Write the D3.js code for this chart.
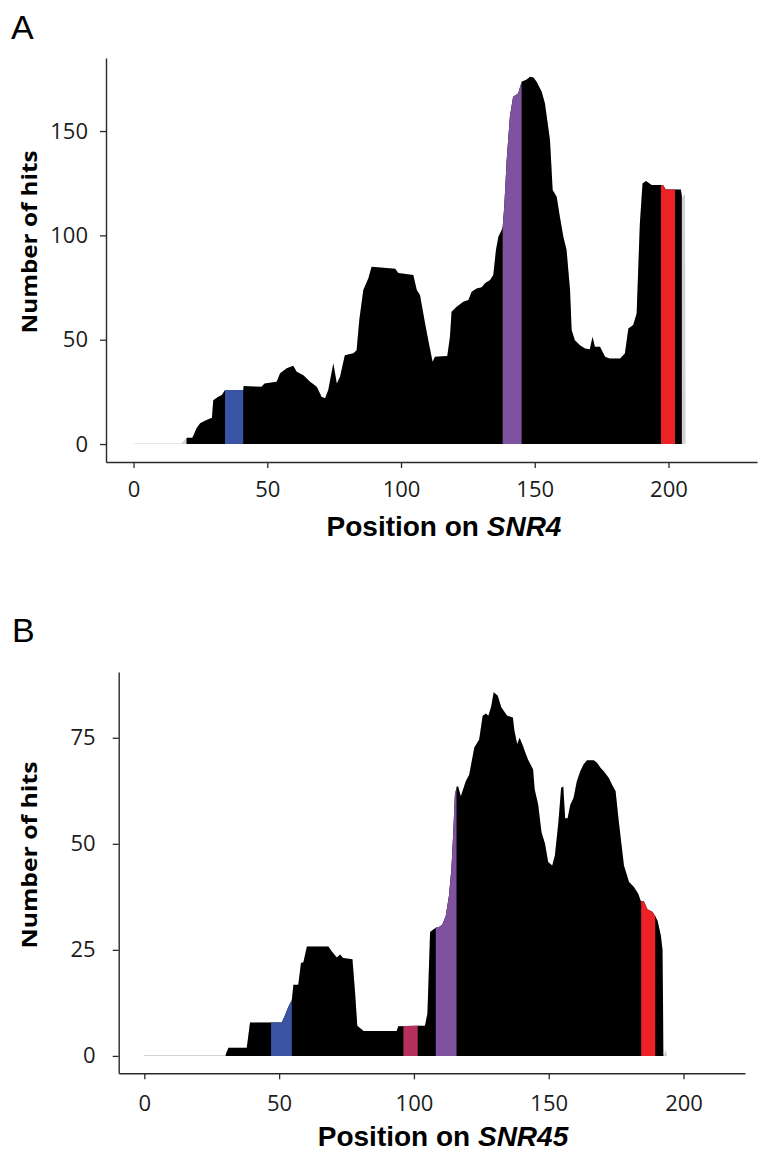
<!DOCTYPE html>
<html>
<head>
<meta charset="utf-8">
<script src="https://cdn.jsdelivr.net/npm/d3@7"></script>
<style>
  html, body { margin: 0; padding: 0; background: #fff; }
  svg { display: block; }
</style>
</head>
<body>
<svg id="chart" width="760" height="1153"></svg>
<script>
// ---------------- Panel A data (SNR4) ----------------
const posA = [0, 18, 19, 20, 22, 23.6, 24.9, 26.7, 28.6, 29.3, 29.8, 31.7, 33, 34.2, 41, 41.2, 45, 47.8, 49, 53.5, 54.8, 57.3, 59.7, 61, 63.5, 66, 68.5, 70.3, 71.6, 72.8, 74.7, 76, 77.2, 79, 82.2, 83.4, 84.4, 85.9, 87.8, 89, 97.8, 99, 104.6, 105.9, 107.1, 109, 110.2, 111.8, 112.7, 117.3, 118.3, 118.9, 120.8, 123.3, 125.2, 126.4, 128.3, 130.2, 131.4, 133.3, 134.5, 135.5, 136.4, 137.6, 138, 138.6, 139.5, 140.7, 141.9, 143.8, 145.1, 147, 148.2, 149.5, 150.7, 152.6, 153.8, 155.7, 156.7, 158.2, 159.4, 160.7, 161.9, 163.2, 163.8, 165, 166.9, 168.8, 170.6, 171.6, 172.5, 174.4, 176.3, 178, 181.9, 183.7, 185, 186.8, 188.1, 189.3, 190.3, 191.6, 193.7, 196.8, 198, 199, 202.4, 204.6, 205.2, 206.2, 206.4];
const hitsA = [0.3, 0.3, 2, 3, 3, 7.7, 10, 11.2, 12.3, 12.5, 21, 22.7, 23.5, 25.9, 25.9, 27.8, 27.6, 27.5, 29, 29.9, 33.9, 36.3, 37.5, 34.7, 33, 29.9, 27.5, 22.7, 21.9, 25.9, 38.7, 29, 32.3, 42.6, 43.5, 45, 59.4, 73.8, 79.4, 85, 84, 82, 81, 73.8, 71.4, 57.8, 49.8, 39.4, 41.8, 42.2, 51.4, 63.4, 65.8, 68.2, 69, 73, 74.6, 75.1, 77, 78.6, 81, 93, 99.3, 102.5, 104, 113.7, 136, 156.8, 166.4, 168, 173.6, 174.7, 176, 175.7, 173.6, 168.8, 163.3, 145.7, 121.7, 118.5, 108.9, 99.3, 93, 73.8, 54.6, 49.8, 47.4, 45.8, 45.4, 51.4, 46.6, 46.6, 41.8, 41, 41, 43.4, 55.4, 57, 62.6, 105.7, 124.9, 126, 124.1, 124.1, 124, 122, 122, 122, 118, 120, 0];
const blackA = [19.8, 205];
const segStartA = [34.2, 138, 197.2];
const segEndA = [41, 145.1, 202.4];
const segColorA = ["#3a54a4", "#7f52a0", "#ec2227"];
const xTicksA = [0, 50, 100, 150, 200];
const yTicksA = [0, 50, 100, 150];

// ---------------- Panel B data (SNR45) ----------------
const posB = [0, 29.9, 30.3, 31.2, 38, 39.2, 47, 51, 52.2, 53.4, 54.7, 55.3, 57.1, 58.1, 59, 60.3, 68.3, 69.5, 71.4, 72.6, 73.8, 77.2, 78.2, 79, 81.3, 93.6, 94.2, 101.4, 104.1, 105, 106, 107.2, 108.1, 109.3, 110.5, 111.8, 113, 113.9, 114.6, 115.2, 115.9, 116.4, 117.4, 119.2, 120.5, 122.4, 124.2, 125.5, 126.7, 127.6, 128.6, 129.6, 131.1, 132.4, 134.6, 136.7, 137.3, 138.3, 139.2, 140.5, 141.1, 142.3, 144.2, 144.8, 146.1, 147.3, 148.6, 149.8, 151.3, 152.3, 153.6, 154.6, 155.4, 156.1, 157, 158, 159.2, 160.4, 161.7, 162.9, 164.2, 166.7, 167.9, 169.2, 170.4, 172.3, 173.5, 174.8, 176, 177.9, 179.8, 181.6, 183.2, 184.1, 185.3, 186.6, 188.4, 189.5, 190.4, 191.6, 192.2, 192.6, 193.3, 194];
const hitsB = [0.2, 0.2, 0.5, 1.9, 1.9, 7.9, 7.9, 7.9, 9.6, 11.5, 13.1, 16.8, 16.8, 21.9, 22.1, 25.8, 25.8, 24.7, 23.2, 23.9, 23.1, 22.8, 14.7, 7.1, 5.9, 5.9, 7, 7.1, 7.1, 10, 29.2, 29.8, 30.2, 30.4, 30.9, 33, 37.8, 44.1, 52.8, 61.6, 63.5, 63.5, 61.2, 64.7, 66.3, 72.7, 74.6, 80.2, 80.7, 80.2, 82.2, 85.7, 84.9, 82.2, 80.2, 79.8, 76.6, 73.5, 75, 73, 71.9, 69.9, 67.5, 62.8, 59.2, 52.8, 50.1, 45.7, 44.9, 47.3, 55.2, 63.2, 63.5, 56, 56, 59.2, 60.8, 64.7, 67.1, 68.7, 69.7, 69.7, 69.1, 67.9, 67.1, 65.5, 63.9, 62.4, 55.2, 44.9, 41, 39.8, 38.2, 36.6, 36.4, 34.6, 34, 33, 31.8, 28.3, 25.1, 0, 1.5, 0];
const blackB = [30.2, 192.6];
const segStartB = [47, 96.1, 108.1, 184.3];
const segEndB = [54.7, 101.4, 115.8, 189.5];
const segColorB = ["#3a54a4", "#b6305e", "#7f52a0", "#ec2227"];
const xTicksB = [0, 50, 100, 150, 200];
const yTicksB = [0, 25, 50, 75];

const svg = d3.select("#chart");

function drawPanel(o) {
  const g = svg.append("g");
  const x = d3.scaleLinear().domain(o.xDomain).range([o.left, o.right]);
  const y = d3.scaleLinear().domain(o.yDomain).range([o.bottom, o.top]);
  const data = o.pos.map((p, i) => ({ p: p, v: o.hits[i] }));
  const area = d3.area().x(d => x(d.p)).y0(y(0)).y1(d => y(d.v)).curve(d3.curveLinear);

  function clipRect(id, a, b) {
    svg.append("clipPath").attr("id", id)
      .append("rect")
      .attr("x", x(a)).attr("width", x(b) - x(a))
      .attr("y", o.top - 5).attr("height", o.bottom - o.top + 10);
  }

  // light grey full profile
  g.append("path").datum(data).attr("d", area).attr("fill", "#d2d2d2");
  // black body
  clipRect(o.id + "-black", o.black[0], o.black[1]);
  g.append("path").datum(data).attr("d", area).attr("fill", "#000")
    .attr("clip-path", `url(#${o.id}-black)`);
  // coloured segments
  o.segStart.forEach((s, i) => {
    const cid = `${o.id}-seg${i}`;
    clipRect(cid, s, o.segEnd[i]);
    g.append("path").datum(data).attr("d", area).attr("fill", o.segColor[i])
      .attr("clip-path", `url(#${cid})`);
  });

  // axes
  const yAxis = d3.axisLeft(y).tickValues(o.yTicks).tickSize(6).tickSizeOuter(0).tickPadding(o.yPad);
  const xAxis = d3.axisBottom(x).tickValues(o.xTicks).tickSize(6).tickSizeOuter(0).tickPadding(o.xPad);
  const ya = g.append("g").attr("transform", `translate(${o.left},0)`).call(yAxis);
  const xa = g.append("g").attr("transform", `translate(0,${o.bottom})`).call(xAxis);
  [ya, xa].forEach(a => {
    a.attr("font-family", "'Open Sans', sans-serif").attr("font-size", 22);
    a.select(".domain").attr("stroke", "#2a2a2a").attr("stroke-width", 1.4);
    a.selectAll(".tick line").attr("stroke", "#2a2a2a").attr("stroke-width", 1.3);
    a.selectAll(".tick text")
      .style("font-family", "'Open Sans', sans-serif")
      .style("font-size", "22px").attr("fill", "#1c1c1c");
  });

  // y title
  g.append("text")
    .attr("transform", `translate(${o.yTitleX},${o.yTitleY}) rotate(-90)`)
    .attr("text-anchor", "middle")
    .attr("font-family", "'Open Sans', sans-serif")
    .attr("font-weight", 700).attr("font-size", 22)
    .attr("textLength", o.yTitleLen).attr("lengthAdjust", "spacingAndGlyphs")
    .text("Number of hits");

  // x title
  const xt = g.append("text")
    .attr("x", o.xTitleX).attr("y", o.xTitleY)
    .attr("text-anchor", "middle")
    .attr("font-family", "'Liberation Sans', Arial, sans-serif")
    .attr("font-weight", 700).attr("font-size", 28);
  xt.append("tspan").text("Position on ");
  xt.append("tspan").attr("font-style", "italic").text(o.gene);

  // panel letter
  g.append("text").attr("x", o.letterX).attr("y", o.letterY)
    .attr("font-family", "'Liberation Sans', Arial, sans-serif")
    .attr("font-size", 34).text(o.letter);
}

drawPanel({
  id: "A", pos: posA, hits: hitsA, black: blackA,
  segStart: segStartA, segEnd: segEndA, segColor: segColorA,
  xTicks: xTicksA, yTicks: yTicksA,
  xDomain: [-10.3, 233.1], yDomain: [-8.6, 185],
  left: 106, right: 757, top: 58, bottom: 462,
  yPad: 12, xPad: 13,
  yTitleX: 37, yTitleY: 242, yTitleLen: 183,
  xTitleX: 444, xTitleY: 536, gene: "SNR4",
  letter: "A", letterX: 11, letterY: 39
});

drawPanel({
  id: "B", pos: posB, hits: hitsB, black: blackB,
  segStart: segStartB, segEnd: segEndB, segColor: segColorB,
  xTicks: xTicksB, yTicks: yTicksB,
  xDomain: [-9.5, 222.8], yDomain: [-4.1, 90.5],
  left: 118.7, right: 745, top: 672, bottom: 1073.3,
  yPad: 17, xPad: 16,
  yTitleX: 37, yTitleY: 855, yTitleLen: 187,
  xTitleX: 443, xTitleY: 1146, gene: "SNR45",
  letter: "B", letterX: 12, letterY: 642
});
</script>
</body>
</html>
